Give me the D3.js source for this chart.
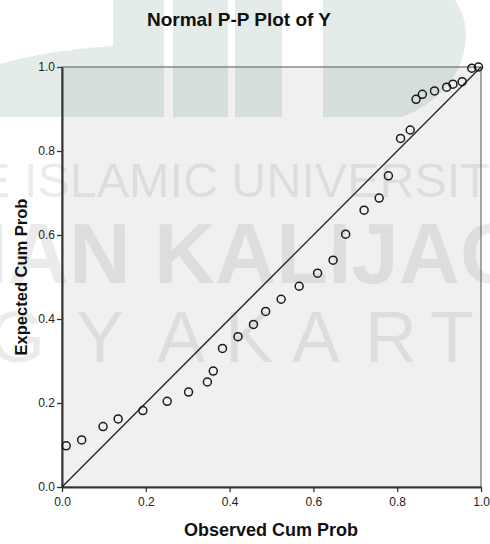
<!DOCTYPE html>
<html>
<head>
<meta charset="utf-8">
<script src="https://cdn.jsdelivr.net/npm/d3@7"></script>
<style>
  body { margin: 0; background: #fff; }
</style>
</head>
<body>
<div id="pp-plot"></div>
<script>
// observed / expected cumulative probabilities
const observed = [0.010, 0.047, 0.098, 0.134, 0.193, 0.251, 0.302, 0.347, 0.361, 0.383,
                  0.420, 0.457, 0.486, 0.523, 0.566, 0.610, 0.647, 0.677, 0.721, 0.757,
                  0.779, 0.808, 0.831, 0.845, 0.860, 0.889, 0.918, 0.933, 0.955, 0.978, 0.994];
const expected = [0.098, 0.112, 0.144, 0.162, 0.182, 0.204, 0.226, 0.250, 0.276, 0.330,
                  0.358, 0.387, 0.418, 0.447, 0.478, 0.509, 0.540, 0.602, 0.659, 0.688,
                  0.741, 0.830, 0.850, 0.923, 0.935, 0.943, 0.952, 0.959, 0.965, 0.997, 1.000];
const tickValues = [0, 0.2, 0.4, 0.6, 0.8, 1.0];
const refLine = [0, 1];

const sans = "'Liberation Sans', Arial, sans-serif";

const margin = { top: 67, right: 9, bottom: 57, left: 62 },
      width = 490 - margin.left - margin.right,
      height = 544 - margin.top - margin.bottom;

const root = d3.select("#pp-plot")
  .append("svg")
    .attr("width", width + margin.left + margin.right)
    .attr("height", height + margin.top + margin.bottom);

root.append("rect").attr("width", 490).attr("height", 544).attr("fill", "#fff");

root.append("g")
    .attr("transform", `translate(${margin.left},${margin.top})`)
  .append("rect")
    .attr("width", width)
    .attr("height", height)
    .attr("fill", "#f0f0f0");

// faint page watermark (logo + university name)
const wm = root.append("g").attr("class", "watermark");
const logo = wm.append("g").attr("fill", "rgb(30,95,75)").attr("fill-opacity", 0.12);
logo.append("path").attr("d", "M0,64 Q50,50 113,46 V117 H0 Z");
logo.append("rect").attr("x", 113).attr("y", 0).attr("width", 51).attr("height", 117);
logo.append("rect").attr("x", 173).attr("y", 0).attr("width", 55).attr("height", 117);
logo.append("rect").attr("x", 235).attr("y", 0).attr("width", 47).attr("height", 117);
logo.append("path").attr("d", "M323,0 H455 C480,35 462,95 402,117 H323 Z");

const wmText = wm.append("g")
    .attr("fill", "#000")
    .attr("fill-opacity", 0.08);

// fit a run of characters [from, from+len) between x0 and x1
function fitText(t, size, from, len, x0, x1) {
  t.style("font-size", size + "px");
  const w = t.node().getSubStringLength(from, len);
  t.style("font-size", (size * (x1 - x0) / w) + "px");
  t.attr("x", x0 - (from ? t.node().getSubStringLength(0, from) : 0));
}

const line1 = wmText.append("text")
    .attr("y", 197)
    .style("font-family", sans)
    .text("STATE ISLAMIC UNIVERSITY");
fitText(line1, 50, 6, 17, 24, 490);

const line2 = wmText.append("text")
    .attr("y", 283)
    .style("font-family", sans)
    .style("font-weight", "bold")
    .text("SUNAN KALIJAGA");
fitText(line2, 84, 3, 9, 8, 460);

wmText.append("text")
    .attr("y", 362)
    .attr("x", [-145, -63, 17, 100, 181, 249, 316, 391, 452, 520].join(" "))
    .attr("text-anchor", "middle")
    .style("font-family", sans)
    .style("font-size", "72px")
    .text("YOGYAKARTA");

const svg = root.append("g")
    .attr("transform", `translate(${margin.left},${margin.top})`);

// Set up scales
const x = d3.scaleLinear().domain([0, 1]).range([0, width]);
const y = d3.scaleLinear().domain([0, 1]).range([height, 0]);

// frame (top / right)
svg.append("rect")
    .attr("width", width)
    .attr("height", height)
    .attr("fill", "none")
    .attr("stroke", "#555")
    .attr("stroke-width", 1);

const xAxis = svg.append("g")
    .attr("transform", `translate(0,${height})`)
    .call(d3.axisBottom(x).tickValues(tickValues).tickFormat(d3.format(".1f")).tickSize(5).tickSizeOuter(0));

const yAxis = svg.append("g")
    .call(d3.axisLeft(y).tickValues(tickValues).tickFormat(d3.format(".1f")).tickSize(5).tickSizeOuter(0));

[xAxis, yAxis].forEach(a => {
  a.select(".domain").attr("stroke", "#333").attr("stroke-width", 2);
  a.selectAll(".tick line").attr("stroke", "#333").attr("stroke-width", 1.3);
  a.selectAll(".tick text")
    .attr("fill", "#222")
    .style("font-size", "12px")
    .style("font-family", sans);
});
xAxis.selectAll(".tick text").attr("y", 19).attr("dy", 0);
yAxis.selectAll(".tick text").attr("x", -7);

// reference diagonal
svg.append("line")
    .attr("x1", x(refLine[0]))
    .attr("y1", y(refLine[0]))
    .attr("x2", x(refLine[1]))
    .attr("y2", y(refLine[1]))
    .attr("stroke", "#222")
    .attr("stroke-width", 1.3);

// points
svg.selectAll(".pt")
  .data(observed.map((o, i) => ({ o, e: expected[i] })))
  .enter().append("circle")
    .attr("class", "pt")
    .attr("cx", d => x(d.o))
    .attr("cy", d => y(d.e))
    .attr("r", 4)
    .attr("fill", "none")
    .attr("stroke", "#1a1a1a")
    .attr("stroke-width", 1.5);

// titles
root.append("text")
    .attr("x", 239)
    .attr("y", 26)
    .attr("text-anchor", "middle")
    .style("font-family", sans)
    .style("font-size", "19px")
    .style("font-weight", "bold")
    .attr("fill", "#111")
    .text("Normal P-P Plot of Y");

root.append("text")
    .attr("x", 271)
    .attr("y", 536)
    .attr("text-anchor", "middle")
    .style("font-family", sans)
    .style("font-size", "18px")
    .style("font-weight", "bold")
    .attr("fill", "#111")
    .text("Observed Cum Prob");

root.append("text")
    .attr("transform", "translate(27,277) rotate(-90)")
    .attr("text-anchor", "middle")
    .style("font-family", sans)
    .style("font-size", "16.5px")
    .style("font-weight", "bold")
    .attr("fill", "#111")
    .text("Expected Cum Prob");
</script>
</body>
</html>
